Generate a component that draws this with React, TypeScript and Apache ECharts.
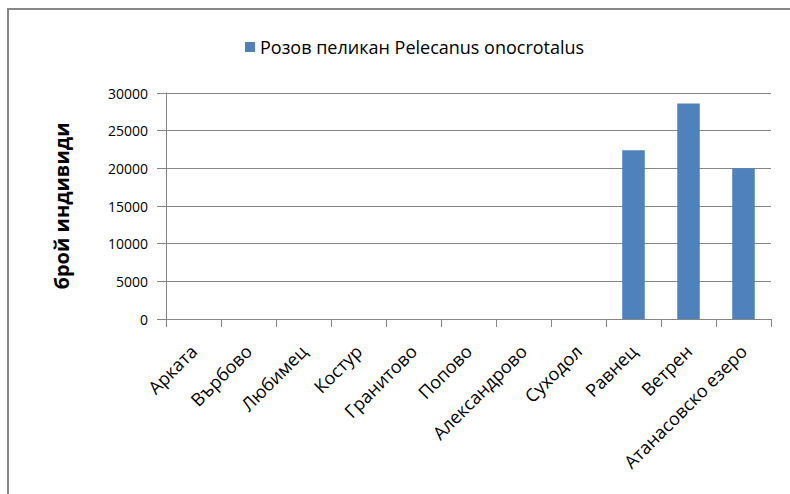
import React, { useEffect, useRef } from "react";
import * as echarts from "echarts";

const categories = [
  "Арката",
  "Върбово",
  "Любимец",
  "Костур",
  "Гранитово",
  "Попово",
  "Александрово",
  "Суходол",
  "Равнец",
  "Ветрен",
  "Атанасовско езеро",
];
const pelicanValues = [0, 0, 0, 0, 0, 0, 0, 0, 22400, 28600, 20000];
const seriesName = "Розов пеликан Pelecanus onocrotalus";
const yAxisTitle = "брой индивиди";

const FONT = "'Open Sans', 'Liberation Sans', sans-serif";

export default function App() {
  const ref = useRef<HTMLDivElement>(null);
  useEffect(() => {
    if (!ref.current) return;
    const chart = echarts.init(ref.current, undefined, { renderer: "svg" });
    chart.setOption({
      animation: false,
      backgroundColor: "#ffffff",
      graphic: [
        {
          type: "rect",
          shape: { x: 8, y: 9, width: 800, height: 500 },
          style: { fill: "none", stroke: "#868686", lineWidth: 2 },
          silent: true,
        },
      ],
      legend: {
        data: [seriesName],
        left: 240,
        top: 33,
        itemWidth: 10,
        itemHeight: 10,
        itemGap: 5,
        icon: "rect",
        textStyle: { fontFamily: FONT, fontSize: 18, color: "#000" },
      },
      grid: { left: 166, top: 93, right: 19, bottom: 175, containLabel: false },
      xAxis: {
        type: "category",
        data: categories,
        boundaryGap: true,
        axisLine: { lineStyle: { color: "#868686", width: 1 } },
        axisTick: { show: true, length: 8, lineStyle: { color: "#868686" } },
        axisLabel: {
          rotate: 45,
          interval: 0,
          margin: 29,
          fontFamily: FONT,
          fontSize: 18,
          color: "#000",
        },
      },
      yAxis: {
        type: "value",
        min: 0,
        max: 30000,
        interval: 5000,
        name: yAxisTitle,
        nameLocation: "middle",
        nameGap: 95,
        nameRotate: 90,
        nameTextStyle: {
          fontFamily: FONT,
          fontSize: 20,
          fontWeight: "bold",
          color: "#000",
        },
        axisLine: { show: true, lineStyle: { color: "#868686" } },
        axisTick: { show: true, length: 9, lineStyle: { color: "#868686" } },
        splitLine: { show: true, lineStyle: { color: "#868686" } },
        axisLabel: {
          margin: 18,
          fontFamily: FONT,
          fontSize: 14,
          color: "#000",
          formatter: (v: number) => String(v),
        },
      },
      series: [
        {
          name: seriesName,
          type: "bar",
          data: pelicanValues,
          barWidth: "41%",
          itemStyle: { color: "#4f81bd" },
        },
      ],
    });
    return () => chart.dispose();
  }, []);
  return (
    <div style={{ position: "fixed", left: 0, top: 0, width: 790, height: 494, background: "#fff" }}>
      <div ref={ref} style={{ width: 790, height: 494 }} />
    </div>
  );
}
